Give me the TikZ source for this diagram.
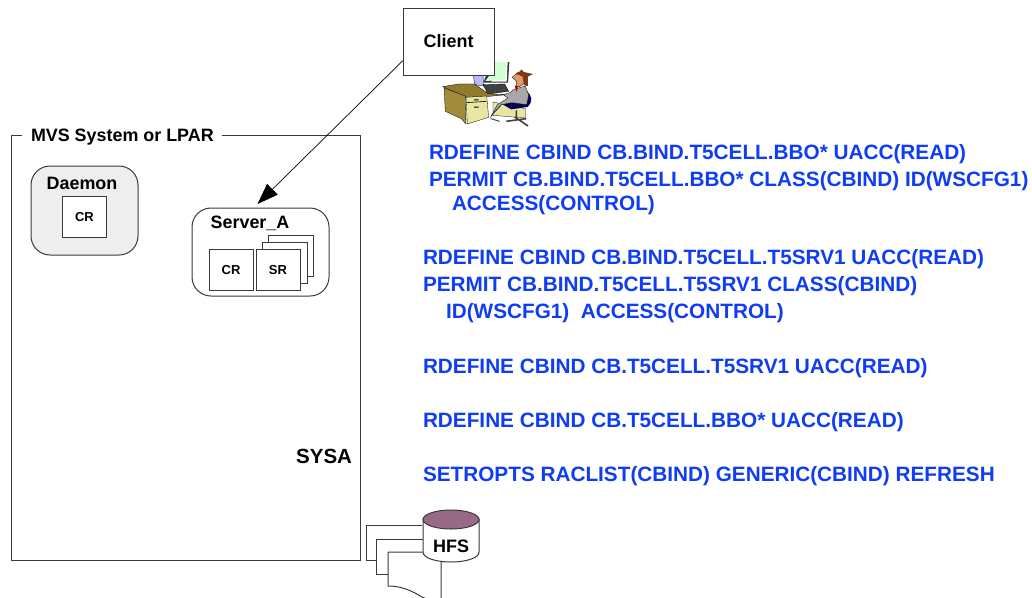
\documentclass[tikz,border=0pt]{standalone}
\usepackage{fontspec}
\setmainfont{Liberation Sans}
\usetikzlibrary{arrows.meta,calc}
\definecolor{cmdblue}{HTML}{0F3CF5}
\definecolor{linegray}{HTML}{3A3A3A}
\definecolor{hfstop}{HTML}{996A88}
\definecolor{daemonfill}{HTML}{EEEEEE}
\definecolor{desktop}{HTML}{8F7A2E}
\definecolor{deskside}{HTML}{A08C3C}
\definecolor{drawer}{HTML}{E8E6A0}
\definecolor{suit}{HTML}{A8A8A8}
\definecolor{skin}{HTML}{E09A6A}
\definecolor{hair}{HTML}{7A3A18}
\tikzset{
  every node/.style={inner sep=0pt,outer sep=0pt},
  sq/.style={draw=linegray,line width=1pt,fill=white,minimum width=44pt,minimum height=41pt,font=\fontsize{13}{14}\selectfont\bfseries},
  backsq/.style={draw=linegray,line width=1pt,fill=white},
  proc/.style={draw=linegray,line width=1pt,rounded corners=19pt},
  lbl/.style={font=\fontsize{17.9}{20}\selectfont\bfseries,text=black},
  cmd/.style={anchor=base west,font=\fontsize{20.75}{23}\selectfont\bfseries,text=cmdblue},
  page/.style={draw=linegray,line width=1pt,fill=white},
  ink/.style={draw=black,line width=0.3pt}
}
\begin{document}
\begin{tikzpicture}[x=1pt,y=-1pt]
\useasboundingbox (0,0) rectangle (1032,597);
\clip (0,0) rectangle (1032,597);
% frame
\coordinate (fa) at (22,135);
\coordinate (fb) at (222,135);
\draw[draw=linegray,line width=0.9pt] (fa) -- (11,135) -- (11,560) -- (360,560) -- (360,135) -- (fb);
\node[lbl,anchor=base west] (mvs) at (31,141) {MVS System or LPAR};
\node[lbl,font=\fontsize{20.5}{22}\selectfont\bfseries,anchor=base east] (sysa) at (352,463) {SYSA};
% daemon
\node[proc,fill=daemonfill,minimum width=107pt,minimum height=89pt] (daemon) at (84.5,210.5) {};
\node[lbl] (daemonl) at (82,183) {Daemon};
\node[sq] (cr1) at (84.5,217) {CR};
% server
\node[proc,fill=white,minimum width=137pt,minimum height=88pt] (server) at (260.5,252) {};
\node[lbl] (serverl) at (250,223) {Server\_A};
\node[backsq,minimum width=45pt,minimum height=41pt] (sr3) at (290.5,255.5) {};
\node[backsq,minimum width=45pt,minimum height=41pt] (sr2) at (284.5,262.5) {};
\node[sq] (cr2) at (231,270) {CR};
\node[sq] (sr1) at (278,270) {SR};
% commands
\node[cmd] (c1) at (429,159) {RDEFINE CBIND CB.BIND.T5CELL.BBO* UACC(READ)};
\node[cmd] (c2) at (429,186) {PERMIT CB.BIND.T5CELL.BBO* CLASS(CBIND) ID(WSCFG1)};
\node[cmd] (c3) at (452,210) {ACCESS(CONTROL)};
\node[cmd] (c4) at (423,264) {RDEFINE CBIND CB.BIND.T5CELL.T5SRV1 UACC(READ)};
\node[cmd] (c5) at (423,291) {PERMIT CB.BIND.T5CELL.T5SRV1 CLASS(CBIND)};
\node[cmd] (c6) at (446,318) {ID(WSCFG1)\ \ ACCESS(CONTROL)};
\node[cmd] (c7) at (423,373) {RDEFINE CBIND CB.T5CELL.T5SRV1 UACC(READ)};
\node[cmd] (c8) at (423,427) {RDEFINE CBIND CB.T5CELL.BBO* UACC(READ)};
\node[cmd] (c9) at (423,481) {SETROPTS RACLIST(CBIND) GENERIC(CBIND) REFRESH};
% clip art: person at desk
\begin{scope}[shift={(438,62)},x=0.3333pt,y=-0.3333pt]
  \fill[black!80] (160,0) -- (214,0) -- (210,62) -- (136,62) -- cycle;
  \fill[white] (166,0) -- (209,0) -- (206,59) -- (160,59) -- cycle;
  \fill[green!18!white] (170,0) -- (204,0) -- (201,54) -- (142,57) -- (162,30) -- cycle;
  \filldraw[ink,fill=blue!28!white] (106,38) -- (135,38) -- (137,72) -- (110,68) -- cycle;
  \filldraw[ink,fill=black!75] (135,68) -- (200,66) -- (212,88) -- (150,96) -- cycle;
  % desk
  \filldraw[ink,fill=desktop] (14,74) -- (62,66) -- (110,66) -- (150,95) -- (205,98) -- (145,104) -- (85,106) -- cycle;
  \filldraw[ink,fill=deskside] (18,78) -- (82,102) -- (84,186) -- (70,170) -- (22,148) -- cycle;
  \filldraw[ink,fill=drawer] (84,106) -- (146,102) -- (152,166) -- (88,186) -- cycle;
  \draw[black,line width=0.6pt] (85,122) -- (146,118);
  \fill[black] (108,112) rectangle (122,115) (108,134) rectangle (122,137);
  % chair and legs
  \filldraw[ink,fill=drawer] (165,120) -- (262,140) -- (262,168) -- (165,160) -- cycle;
  \fill[blue!35!black] (262,85) .. controls (285,100) and (285,120) .. (268,135) -- (220,142) -- (190,125) -- (250,118) -- cycle;
  \draw[black!75,line width=1.6pt] (235,145) -- (235,165) (205,178) -- (265,170) (230,165) -- (270,192);
  % man
  \filldraw[ink,fill=suit] (228,82) -- (262,72) -- (272,100) -- (266,128) -- (222,122) -- (190,128) -- (158,165) -- (178,128) -- (210,108) -- (196,98) -- (216,92) -- cycle;
  \draw[black!70,line width=1pt] (158,170) -- (185,178) (190,128) -- (165,155);
  \filldraw[ink,fill=skin] (232,38) -- (258,32) -- (262,62) -- (245,74) -- (234,72) -- (236,58) -- (222,46) -- cycle;
  \fill[hair] (232,34) -- (246,28) -- (250,22) -- (258,30) -- (285,36) -- (270,44) -- (270,72) -- (258,70) -- (254,44) -- cycle;
  \fill[red!70!black] (230,72) -- (240,72) -- (236,90) -- cycle;
\end{scope}
% client
\node[draw=linegray,line width=1pt,fill=white,minimum width=91pt,minimum height=67pt,font=\fontsize{18}{20}\selectfont\bfseries] (client) at (448.5,41.5) {Client};
\draw[black,line width=0.7pt,-{Triangle[length=21pt,width=15pt]}] ($(client.west)+(0,19)$) -- ($(server.north)+(-3,-4)$);
% HFS
\draw[page] (422,525) -- (366,525) -- (366,560) -- (376,560);
\draw[page] (424,539) -- (376,539) -- (376,574) -- (388,574);
\coordinate (hfsb) at (441,562);
\draw[page] (424,552) -- (388,552) -- (388,586) .. controls (402,586) and (412,591) .. (422,597) .. controls (428,600) and (436,602) .. (441,602) -- (hfsb);
\filldraw[draw=linegray,line width=1pt,fill=white] (423,519) -- (423,552) .. controls (423,558) and (436,562) .. (451,562) .. controls (466,562) and (479,558) .. (479,552) -- (479,519) -- cycle;
\filldraw[draw=linegray,line width=1pt,fill=hfstop] (451,519.5) ellipse [x radius=28pt,y radius=9.5pt];
\node[font=\fontsize{18}{20}\selectfont\bfseries] (hfs) at (451,546) {HFS};
\end{tikzpicture}
\end{document}
